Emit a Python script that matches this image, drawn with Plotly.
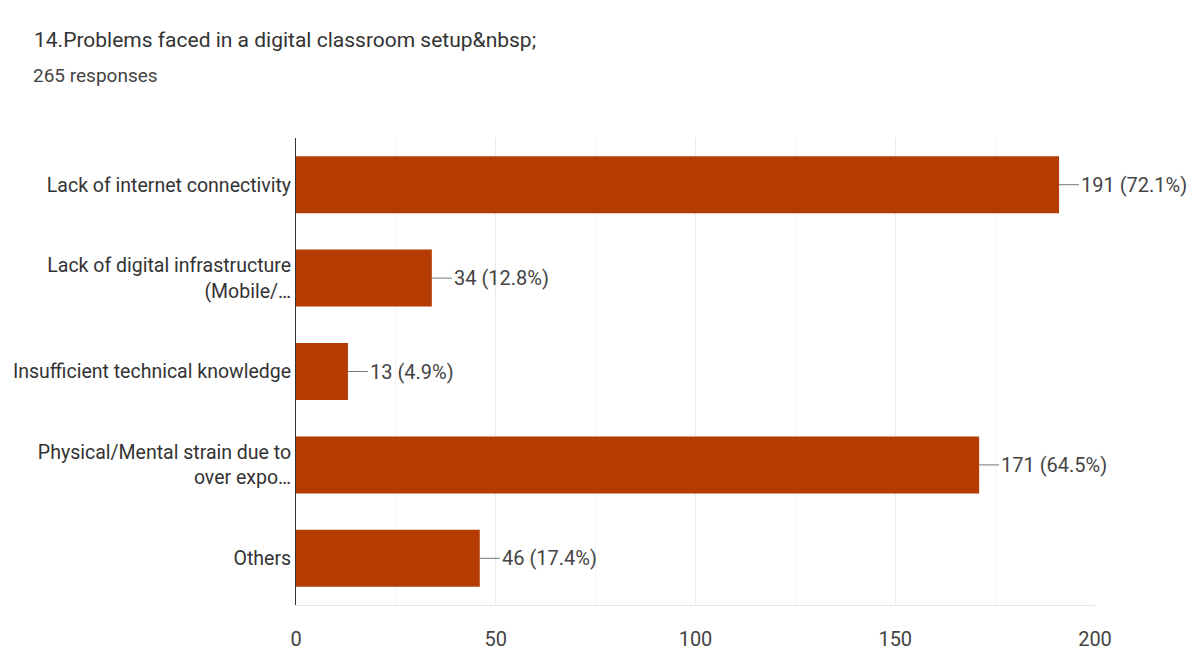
import plotly.graph_objects as go

categories = [
    "Lack of internet connectivity",
    "Lack of digital infrastructure<br>(Mobile/…",
    "Insufficient technical knowledge",
    "Physical/Mental strain due to<br>over expo…",
    "Others",
]
counts = [191, 34, 13, 171, 46]
percents = [72.1, 12.8, 4.9, 64.5, 17.4]
x_ticks = [0, 50, 100, 150, 200]

title_text = "14.Problems faced in a digital classroom setup&amp;nbsp;"
subtitle_text = "265 responses"

FONT = "Roboto, Arial, sans-serif"
BAR = "#b43c03"

# page body has an 8px default margin; compensate so screen coords match
OFF = 8
L, R, T, B = 296 - OFF, 108, 138 - OFF, 52
PW = 1195 - L - R
PH = 649 - T - B

fig = go.Figure()
fig.add_trace(go.Bar(
    x=counts, y=categories, orientation="h",
    marker=dict(color=BAR, line=dict(width=0)),
    hoverinfo="skip",
))

for c, v, p in zip(categories, counts, percents):
    fig.add_annotation(
        x=v, y=c, xref="x", yref="y",
        text=f"{v} ({p}%)",
        showarrow=True, arrowhead=0, arrowwidth=1, arrowcolor="#777",
        ax=20, ay=0, xanchor="left", standoff=0, startstandoff=0,
        font=dict(family=FONT, size=20, color="#444"),
    )

fig.add_annotation(text=title_text, xref="paper", yref="paper",
                   x=(32 - OFF - L) / PW, y=1 + (T - (40 - OFF)) / PH,
                   xanchor="left", yanchor="middle",
                   showarrow=False, font=dict(family=FONT, size=21, color="#333"))
fig.add_annotation(text=subtitle_text, xref="paper", yref="paper",
                   x=(31 - OFF - L) / PW, y=1 + (T - (75 - OFF)) / PH,
                   xanchor="left", yanchor="middle",
                   showarrow=False, font=dict(family=FONT, size=19, color="#444"))

fig.update_layout(
    width=1195, height=649,
    margin=dict(l=L, r=R, t=T, b=B),
    paper_bgcolor="white", plot_bgcolor="white",
    showlegend=False,
    bargap=0.39,
    font=dict(family=FONT, color="#444"),
    xaxis=dict(
        range=[0, 200], tickvals=x_ticks,
        showgrid=True, gridcolor="#ebebeb", gridwidth=1,
        minor=dict(dtick=25, showgrid=True, gridcolor="#f4f4f4"),
        zeroline=False, showline=True, linecolor="#e6e6e6", linewidth=1,
        tickfont=dict(family=FONT, size=20, color="#444"),
        ticks="", ticklabelstandoff=16, automargin=False, fixedrange=True,
    ),
    yaxis=dict(
        autorange="reversed", showgrid=False, zeroline=False,
        showline=True, linecolor="#333", linewidth=1,
        tickfont=dict(family=FONT, size=19.5, color="#333"),
        ticks="", ticklabelstandoff=0, automargin=False,
    ),
)

fig.write_html("out.html")
